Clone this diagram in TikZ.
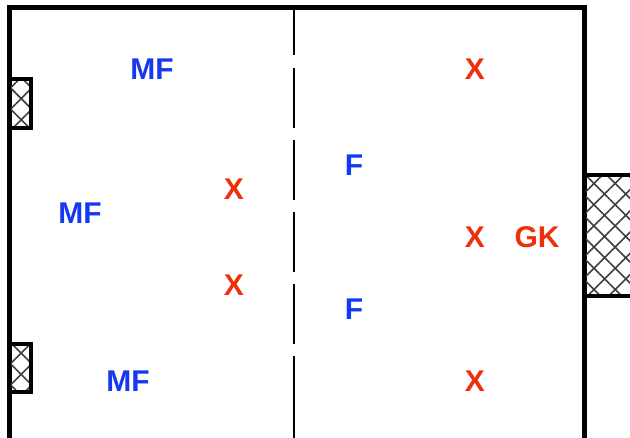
\documentclass[tikz,border=0pt]{standalone}
\usepackage{fontspec}
\setmainfont{Liberation Sans}
\usetikzlibrary{patterns.meta}

\definecolor{teamblue}{RGB}{22,56,238}
\definecolor{teamred}{RGB}{238,48,10}

\begin{document}
\begin{tikzpicture}[x=1pt,y=-1pt,
    border/.style={draw,line width=5pt},
    halfway/.style={draw,line width=2.8pt},
    goal/.style={draw,line width=4.5pt,pattern color=black!75,
      pattern={Hatch[angle=45,distance=15pt,line width=1.6pt]}},
    player/.style={inner sep=0pt,font=\fontsize{30}{35}\selectfont\bfseries}]

        \useasboundingbox (0,0) rectangle (630,438);

        % pitch and the dashed half-way line
        \path[border] (9,8) rectangle (584,441);
        \foreach \a/\b in {8/55, 68/128, 140/200, 212/272, 284/344, 356/441}
          \path[halfway] (294,\a) -- (294,\b);

        % goals
        \path[goal] (9,79)   rectangle (31,128);
        \path[goal] (9,344)  rectangle (31,392);
        \path[goal] (584,175) rectangle (640,296);

        \begin{scope}[every node/.style={player,text=teamblue}]
          \node (mf1) at (152,69)  {MF};
          \node (mf2) at (80,213)  {MF};
          \node (mf3) at (128,381) {MF};
          \node (f1)  at (354,165) {F};
          \node (f2)  at (354,309) {F};
        \end{scope}

        \begin{scope}[every node/.style={player,text=teamred}]
          \node (x1) at (234,189) {X};
          \node (x2) at (234,285) {X};
          \node (x3) at (475,69)  {X};
          \node (x4) at (475,237) {X};
          \node (x5) at (475,381) {X};
          \node (gk) at (537,237) {GK};
        \end{scope}

      \end{tikzpicture}
\end{document}
